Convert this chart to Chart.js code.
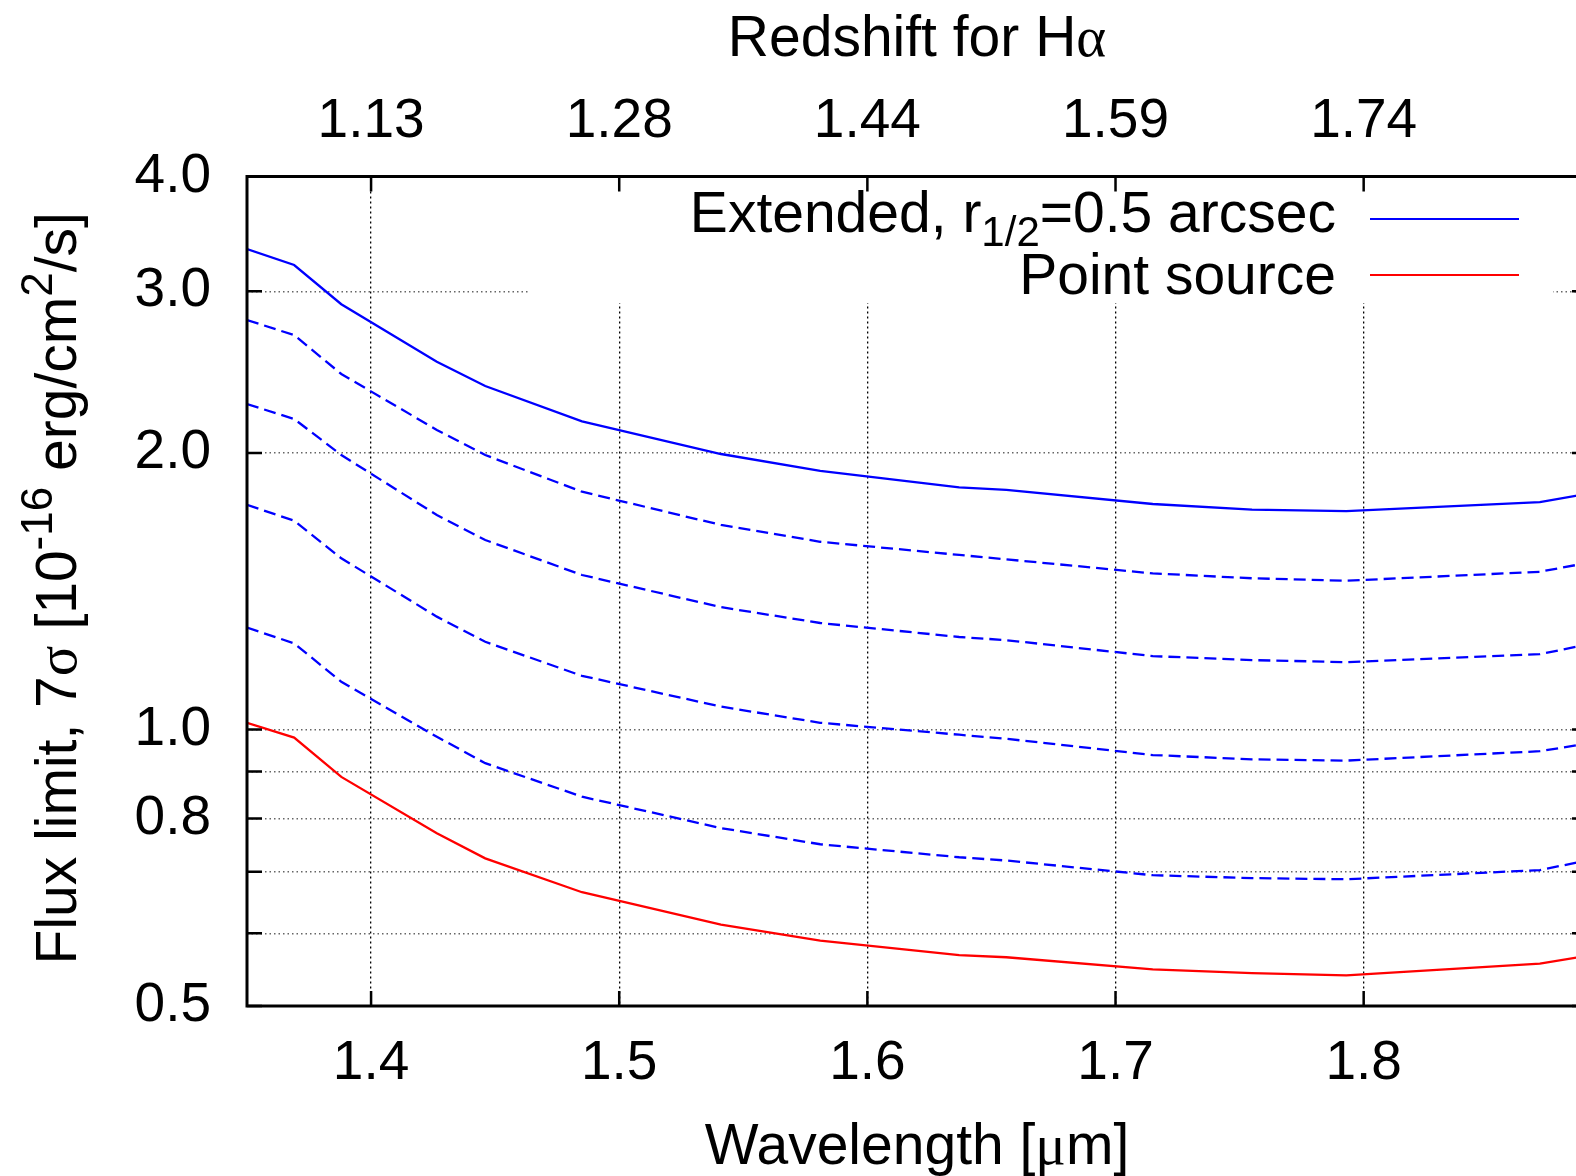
<!DOCTYPE html>
<html>
<head>
<meta charset="utf-8">
<script src="https://cdn.jsdelivr.net/npm/chart.js@4.4.0/dist/chart.umd.min.js"></script>
<style>
  html, body { margin: 0; padding: 0; background: #fff; overflow: hidden; }
  #wrap { width: 1576px; height: 1176px; overflow: hidden; position: relative; background: #fff; }
  canvas { display: block; }
</style>
</head>
<body>
<div id="wrap"><canvas id="c" width="1600" height="1176" style="width:1600px;height:1176px"></canvas></div>
<script>
// Sampling wavelengths in micron
const wavelength = [1.350, 1.369, 1.388, 1.4265, 1.446, 1.485, 1.541, 1.581, 1.637, 1.656, 1.715, 1.755, 1.793, 1.871, 1.890];

// 7-sigma flux limits [1e-16 erg/cm^2/s]
const extendedHalfArcsec = [3.335, 3.204, 2.904, 2.514, 2.366, 2.165, 1.995, 1.912, 1.835, 1.823, 1.760, 1.735, 1.729, 1.768, 1.805];
const dashed1 = [2.791, 2.688, 2.438, 2.119, 1.990, 1.815, 1.670, 1.601, 1.549, 1.532, 1.479, 1.461, 1.452, 1.485, 1.518];
const dashed2 = [2.261, 2.178, 1.990, 1.712, 1.608, 1.473, 1.359, 1.306, 1.261, 1.251, 1.202, 1.190, 1.184, 1.208, 1.237];
const dashed3 = [1.756, 1.688, 1.536, 1.327, 1.246, 1.144, 1.059, 1.017, 0.987, 0.977, 0.938, 0.928, 0.925, 0.947, 0.965];
const dashed4 = [1.291, 1.241, 1.127, 0.982, 0.919, 0.845, 0.781, 0.750, 0.726, 0.720, 0.694, 0.689, 0.687, 0.703, 0.720];
const pointSource = [1.017, 0.980, 0.888, 0.771, 0.724, 0.665, 0.613, 0.589, 0.568, 0.565, 0.548, 0.543, 0.540, 0.556, 0.567];

// Axis ticks
const wavelengthTicks = [1.4, 1.5, 1.6, 1.7, 1.8];
const redshiftLabels = ['1.13', '1.28', '1.44', '1.59', '1.74'];
const fluxTicks = [0.5, 0.6, 0.7, 0.8, 0.9, 1, 2, 3, 4];
const fluxLabelled = [0.5, 0.8, 1, 2, 3, 4];

const SANS = '"Liberation Sans", Arial, Helvetica, sans-serif';
const SERIF = '"Liberation Serif", "DejaVu Serif", serif';
const TICK_FS = 55;
const TEXT_FS = 57;

const toPoints = vals => wavelength.map((w, i) => ({ x: w, y: vals[i] }));

function richWidth(ctx, parts) {
  let w = 0;
  for (const p of parts) { ctx.font = p.font; w += ctx.measureText(p.t).width; }
  return w;
}
function drawRich(ctx, parts, x, y, align) {
  const w = richWidth(ctx, parts);
  let cx = align === 'right' ? x - w : align === 'center' ? x - w / 2 : x;
  ctx.textAlign = 'left';
  ctx.textBaseline = 'alphabetic';
  for (const p of parts) {
    ctx.font = p.font;
    ctx.fillText(p.t, cx, y + (p.dy || 0));
    cx += ctx.measureText(p.t).width;
  }
}

const big = `${TEXT_FS}px ${SANS}`;
const small = `44px ${SANS}`;
const sub = `42px ${SANS}`;
const greek = `${TEXT_FS}px ${SERIF}`;

const framePlugin = {
  id: 'frame',
  beforeDatasetsDraw(chart) {
    // white key box that hides the grid behind the legend
    const { ctx, chartArea } = chart;
    ctx.save();
    ctx.fillStyle = '#fff';
    ctx.fillRect(530, chartArea.top, 1553 - 530, 303 - chartArea.top);
    ctx.restore();
  },
  afterDraw(chart) {
    const { ctx, chartArea: a } = chart;
    const xs = chart.scales.x, ys = chart.scales.y;
    ctx.save();
    ctx.strokeStyle = '#000';
    ctx.lineCap = 'butt';

    // inward tick marks
    ctx.lineWidth = 2.5;
    ctx.beginPath();
    for (const v of wavelengthTicks) {
      const px = xs.getPixelForValue(v);
      ctx.moveTo(px, a.bottom); ctx.lineTo(px, a.bottom - 15);
      ctx.moveTo(px, a.top); ctx.lineTo(px, a.top + 15);
    }
    for (const v of fluxTicks) {
      const py = ys.getPixelForValue(v);
      ctx.moveTo(a.left, py); ctx.lineTo(a.left + 15, py);
      ctx.moveTo(a.right, py); ctx.lineTo(a.right - 15, py);
    }
    ctx.stroke();

    // plot frame
    ctx.lineWidth = 3;
    ctx.strokeRect(a.left, a.top, a.right - a.left, a.bottom - a.top);

    // key
    ctx.fillStyle = '#000';
    drawRich(ctx, [
      { t: 'Extended, r', font: big },
      { t: '1/2', font: sub, dy: 14 },
      { t: '=0.5 arcsec', font: big }
    ], 1336, 232, 'right');
    drawRich(ctx, [{ t: 'Point source', font: big }], 1336, 294, 'right');
    ctx.lineWidth = 2.2;
    ctx.strokeStyle = '#0000ff';
    ctx.beginPath(); ctx.moveTo(1370, 219); ctx.lineTo(1519, 219); ctx.stroke();
    ctx.strokeStyle = '#ff0000';
    ctx.beginPath(); ctx.moveTo(1370, 275); ctx.lineTo(1519, 275); ctx.stroke();

    // axis titles
    const cx = (a.left + a.right) / 2;
    ctx.fillStyle = '#000';
    drawRich(ctx, [{ t: 'Redshift for H', font: big }, { t: 'α', font: greek }], cx, 56, 'center');
    drawRich(ctx, [{ t: 'Wavelength [', font: big }, { t: 'μ', font: greek }, { t: 'm]', font: big }], cx, 1164, 'center');

    ctx.save();
    ctx.translate(76, (a.top + a.bottom) / 2 - 3);
    ctx.rotate(-Math.PI / 2);
    drawRich(ctx, [
      { t: 'Flux limit, 7', font: big },
      { t: 'σ', font: greek },
      { t: ' [10', font: big },
      { t: '-16', font: small, dy: -24 },
      { t: ' erg/cm', font: big },
      { t: '2', font: small, dy: -24 },
      { t: '/s]', font: big }
    ], 0, 0, 'center');
    ctx.restore();

    ctx.restore();
  }
};

const lineStyle = (color, dash) => ({
  borderColor: color,
  backgroundColor: color,
  borderWidth: 2.3,
  borderDash: dash || [],
  pointRadius: 0,
  fill: false,
  tension: 0
});

new Chart(document.getElementById('c'), {
  type: 'line',
  data: {
    datasets: [
      { label: 'Extended, r1/2=0.5 arcsec', data: toPoints(extendedHalfArcsec), ...lineStyle('#0000ff') },
      { label: 'dashed 1', data: toPoints(dashed1), ...lineStyle('#0000ff', [12, 6]) },
      { label: 'dashed 2', data: toPoints(dashed2), ...lineStyle('#0000ff', [12, 6]) },
      { label: 'dashed 3', data: toPoints(dashed3), ...lineStyle('#0000ff', [12, 6]) },
      { label: 'dashed 4', data: toPoints(dashed4), ...lineStyle('#0000ff', [12, 6]) },
      { label: 'Point source', data: toPoints(pointSource), ...lineStyle('#ff0000') }
    ]
  },
  options: {
    responsive: false,
    animation: false,
    devicePixelRatio: 1,
    layout: { padding: { left: 0, right: 13, top: 0, bottom: 0 } },
    plugins: { legend: { display: false }, tooltip: { enabled: false } },
    scales: {
      x: {
        type: 'linear', position: 'bottom', min: 1.35, max: 1.89,
        afterBuildTicks: s => { s.ticks = wavelengthTicks.map(v => ({ value: v })); },
        afterFit: s => { s.height = 170; },
        ticks: { callback: v => v.toFixed(1), font: { family: SANS, size: TICK_FS }, color: '#000', padding: 25, maxRotation: 0, autoSkip: false },
        grid: { color: '#000', lineWidth: 1.3, drawTicks: false },
        border: { display: false, dash: [2, 3] }
      },
      x2: {
        type: 'linear', position: 'top', min: 1.35, max: 1.89,
        afterBuildTicks: s => { s.ticks = wavelengthTicks.map(v => ({ value: v })); },
        afterFit: s => { s.height = 176.5; },
        ticks: { callback: (v, i) => redshiftLabels[i], font: { family: SANS, size: TICK_FS }, color: '#000', padding: 22, maxRotation: 0, autoSkip: false },
        grid: { display: false, drawTicks: false },
        border: { display: false }
      },
      y: {
        type: 'logarithmic', position: 'left', min: 0.5, max: 4,
        afterBuildTicks: s => { s.ticks = fluxTicks.map(v => ({ value: v })); },
        afterFit: s => { s.width = 247; },
        ticks: { callback: v => fluxLabelled.includes(v) ? v.toFixed(1) : '', font: { family: SANS, size: TICK_FS }, color: '#000', padding: 36, autoSkip: false },
        grid: { color: '#666', lineWidth: 1.5, drawTicks: false },
        border: { display: false, dash: [1.5, 3] }
      }
    }
  },
  plugins: [framePlugin]
});
</script>
</body>
</html>
